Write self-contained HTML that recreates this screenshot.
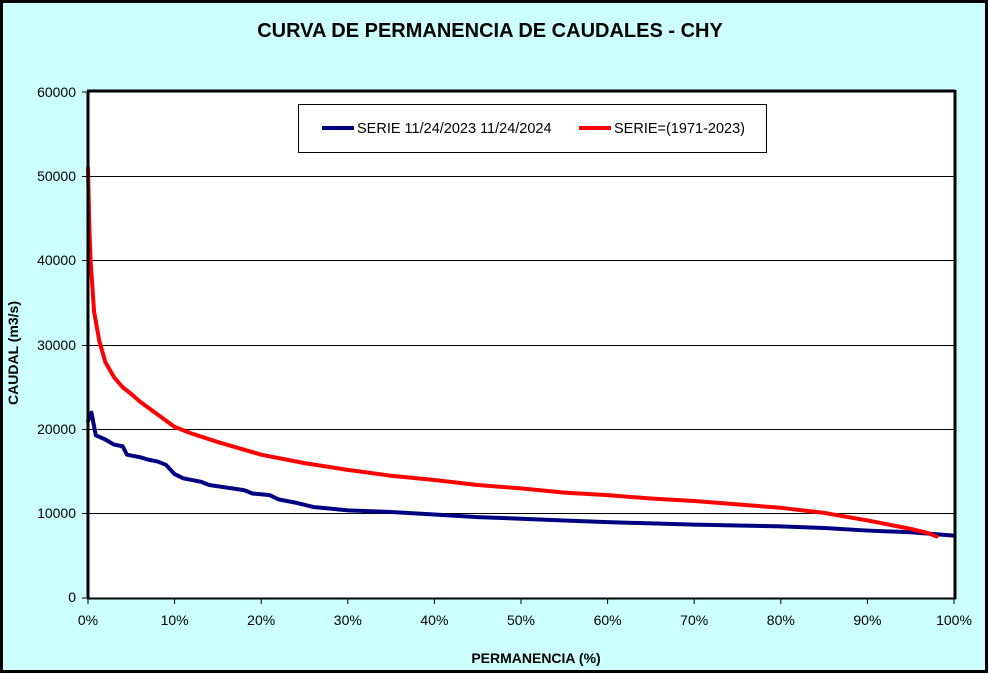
<!DOCTYPE html>
<html><head><style>
body{margin:0;background:#fff}
svg{display:block;font-family:"Liberation Sans",Arial,sans-serif}
</style></head><body>
<svg width="989" height="674" viewBox="0 0 989 674">
<rect x="1.5" y="1.5" width="985" height="670" fill="#ccffff" stroke="#000" stroke-width="3"/>
<text x="490" y="37" text-anchor="middle" font-size="20" font-weight="bold">CURVA DE PERMANENCIA DE CAUDALES - CHY</text>
<rect x="88" y="92" width="866" height="506" fill="#fff"/>
<g stroke="#000" stroke-width="1">
<line x1="88" x2="954" y1="176.5" y2="176.5"/>
<line x1="88" x2="954" y1="260.5" y2="260.5"/>
<line x1="88" x2="954" y1="345.5" y2="345.5"/>
<line x1="88" x2="954" y1="429.5" y2="429.5"/>
<line x1="88" x2="954" y1="513.5" y2="513.5"/>
</g>
<g stroke="#000" stroke-width="1">
<line x1="82" x2="88" y1="92" y2="92"/><line x1="82" x2="88" y1="176.5" y2="176.5"/><line x1="82" x2="88" y1="260.5" y2="260.5"/><line x1="82" x2="88" y1="345.5" y2="345.5"/><line x1="82" x2="88" y1="429.5" y2="429.5"/><line x1="82" x2="88" y1="513.5" y2="513.5"/><line x1="82" x2="88" y1="598" y2="598"/>
<line x1="88" x2="88" y1="598" y2="604"/><line x1="174.6" x2="174.6" y1="598" y2="604"/><line x1="261.2" x2="261.2" y1="598" y2="604"/><line x1="347.8" x2="347.8" y1="598" y2="604"/><line x1="434.4" x2="434.4" y1="598" y2="604"/><line x1="521" x2="521" y1="598" y2="604"/><line x1="607.6" x2="607.6" y1="598" y2="604"/><line x1="694.2" x2="694.2" y1="598" y2="604"/><line x1="780.8" x2="780.8" y1="598" y2="604"/><line x1="867.4" x2="867.4" y1="598" y2="604"/><line x1="954" x2="954" y1="598" y2="604"/>
</g>
<g font-size="14" text-anchor="end">
<text x="76" y="97">60000</text><text x="76" y="181">50000</text><text x="76" y="265">40000</text><text x="76" y="350">30000</text><text x="76" y="434">20000</text><text x="76" y="518">10000</text><text x="76" y="602">0</text>
</g>
<g font-size="14" text-anchor="middle">
<text x="88" y="625">0%</text><text x="174.6" y="625">10%</text><text x="261.2" y="625">20%</text><text x="347.8" y="625">30%</text><text x="434.4" y="625">40%</text><text x="521" y="625">50%</text><text x="607.6" y="625">60%</text><text x="694.2" y="625">70%</text><text x="780.8" y="625">80%</text><text x="867.4" y="625">90%</text><text x="954" y="625">100%</text>
</g>
<text x="536" y="663" text-anchor="middle" font-size="14" font-weight="bold">PERMANENCIA (%)</text>
<text transform="translate(18,353) rotate(-90)" text-anchor="middle" font-size="14" font-weight="bold">CAUDAL (m3/s)</text>
<g transform="translate(88,598) scale(8.66,-0.00843)" fill="none" stroke-linejoin="round" stroke-linecap="round">
<polyline vector-effect="non-scaling-stroke" stroke="#000080" stroke-width="4" points="0,21000 0.4,22000 0.9,19300 2,18800 3,18200 4,18000 4.5,17000 6,16700 7,16400 8,16200 9,15800 10,14700 11,14200 13,13800 14,13400 16,13100 18,12800 19,12400 21,12200 22,11700 24,11300 26,10800 28,10600 30,10400 35,10200 40,9900 45,9600 50,9400 55,9200 60,9000 70,8700 80,8500 85,8300 90,8000 95,7800 100,7400"/>
<polyline vector-effect="non-scaling-stroke" stroke="#ff0000" stroke-width="4" points="0,51000 0.15,44000 0.3,40000 0.7,34000 1.3,30500 2,28000 3,26200 4,25000 5,24200 6,23300 8,21800 10,20300 12,19500 15,18500 20,17000 25,16000 30,15200 35,14500 40,14000 45,13400 50,13000 55,12500 60,12200 65,11800 70,11500 75,11100 80,10700 85,10100 90,9200 93,8600 95,8200 97,7700 98,7300"/>
</g>
<line x1="88" y1="92" x2="88" y2="598" stroke="#000" stroke-width="3"/>
<line x1="87" y1="91" x2="955" y2="91" stroke="#000" stroke-width="3"/>
<line x1="955" y1="90" x2="955" y2="599" stroke="#000" stroke-width="3"/>
<line x1="87" y1="598.5" x2="956" y2="598.5" stroke="#000" stroke-width="2"/>
<rect x="298.5" y="104.5" width="468" height="48" fill="#fff" stroke="#000" stroke-width="1"/>
<line x1="322" x2="354" y1="128" y2="128" stroke="#000080" stroke-width="4"/>
<text x="357" y="133" font-size="14.5">SERIE 11/24/2023 11/24/2024</text>
<line x1="579" x2="611" y1="128" y2="128" stroke="#ff0000" stroke-width="4"/>
<text x="614" y="133" font-size="14.5">SERIE=(1971-2023)</text>
</svg>
</body></html>
